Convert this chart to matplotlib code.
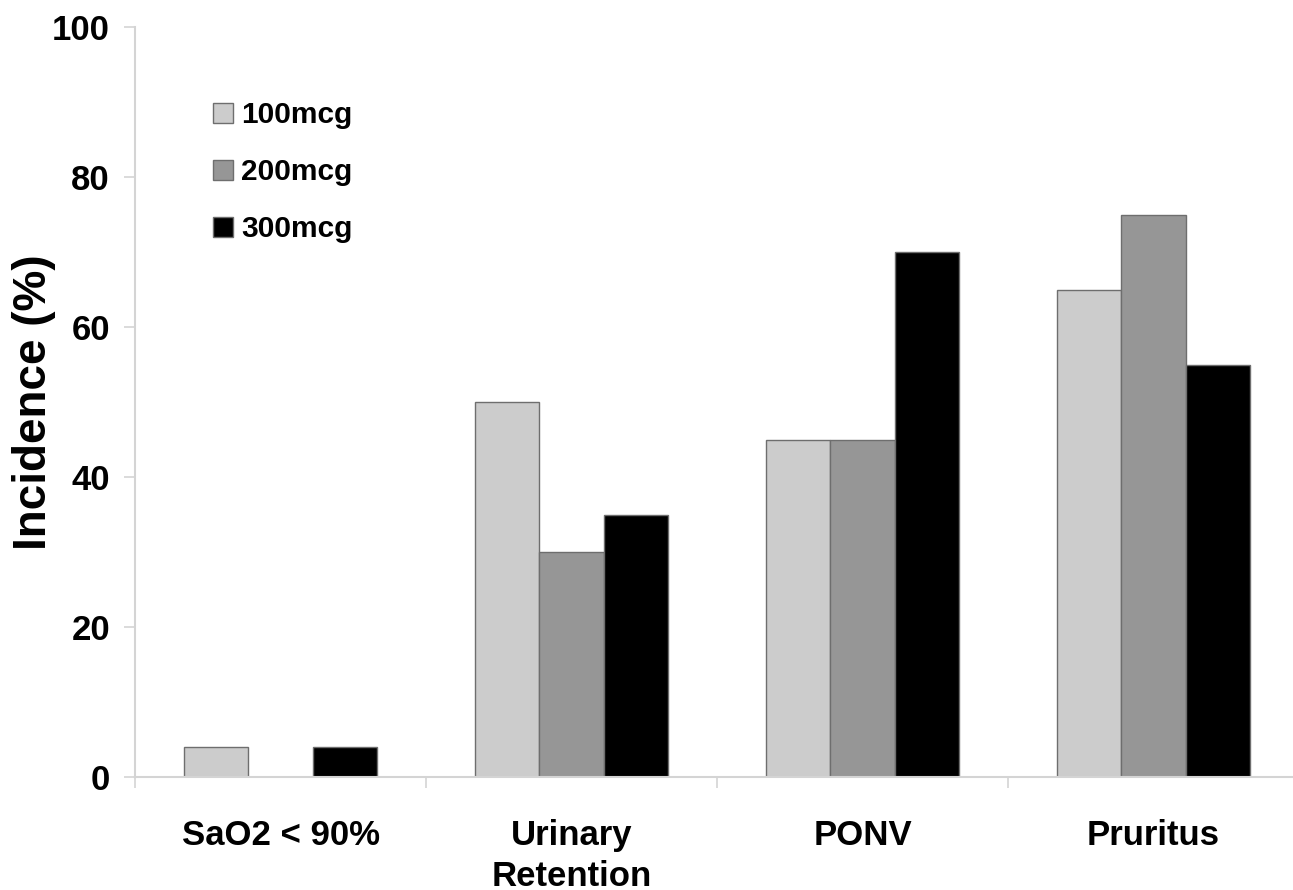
import matplotlib.pyplot as plt
import numpy as np

# Data
categories = ['SaO2 < 90%', 'Urinary\nRetention', 'PONV', 'Pruritus']
doses = ['100mcg', '200mcg', '300mcg']
inc_100 = [4, 50, 45, 65]
inc_200 = [0, 30, 45, 75]
inc_300 = [4, 35, 70, 55]
colors = ['#cccccc', '#969696', '#000000']

plt.rcParams['font.family'] = ['Liberation Sans', 'DejaVu Sans']
plt.rcParams['font.weight'] = 'bold'

fig = plt.figure(figsize=(12.93, 8.90), dpi=100)
ax = fig.add_axes([135 / 1293, 113 / 890, 1164 / 1293, 750 / 890])

x = np.arange(len(categories)) + 0.5
w = 0.222
for k, (vals, lab, col) in enumerate(zip([inc_100, inc_200, inc_300], doses, colors)):
    ax.bar(x + (k - 1) * w, vals, w, color=col, edgecolor='#6e6e6e',
           linewidth=1.0, label=lab)

ax.set_xlim(0, len(categories))
ax.set_ylim(0, 100)
ax.set_yticks([0, 20, 40, 60, 80, 100])
ax.set_xticks(x)
ax.set_xticklabels(categories, fontsize=25, fontweight='bold', linespacing=1.33)
ax.set_xticks(np.arange(0, len(categories) + 1), minor=True)
ax.tick_params(axis='x', which='major', length=0, pad=30)
ax.tick_params(axis='x', which='minor', length=8, width=1.2, color='#d4d4d4',
               direction='out')
ax.tick_params(axis='y', length=8, width=1.2, color='#d4d4d4', direction='out',
               labelsize=25, pad=10)
for t in ax.get_yticklabels():
    t.set_fontweight('bold')

for side in ['top', 'right']:
    ax.spines[side].set_visible(False)
for side in ['left', 'bottom']:
    ax.spines[side].set_color('#d4d4d4')
    ax.spines[side].set_linewidth(1.5)

ax.set_ylabel('Incidence (%)', fontsize=33, fontweight='bold')
ax.yaxis.set_label_coords(-0.068, 0.5)

leg = ax.legend(loc='upper left', bbox_to_anchor=(0.044, 0.937), frameon=False,
                prop={'size': 21.5, 'weight': 'bold'}, handlelength=0.65,
                handleheight=0.65, handletextpad=0.3, labelspacing=0.97)

fig.savefig('out.png', dpi=100)
